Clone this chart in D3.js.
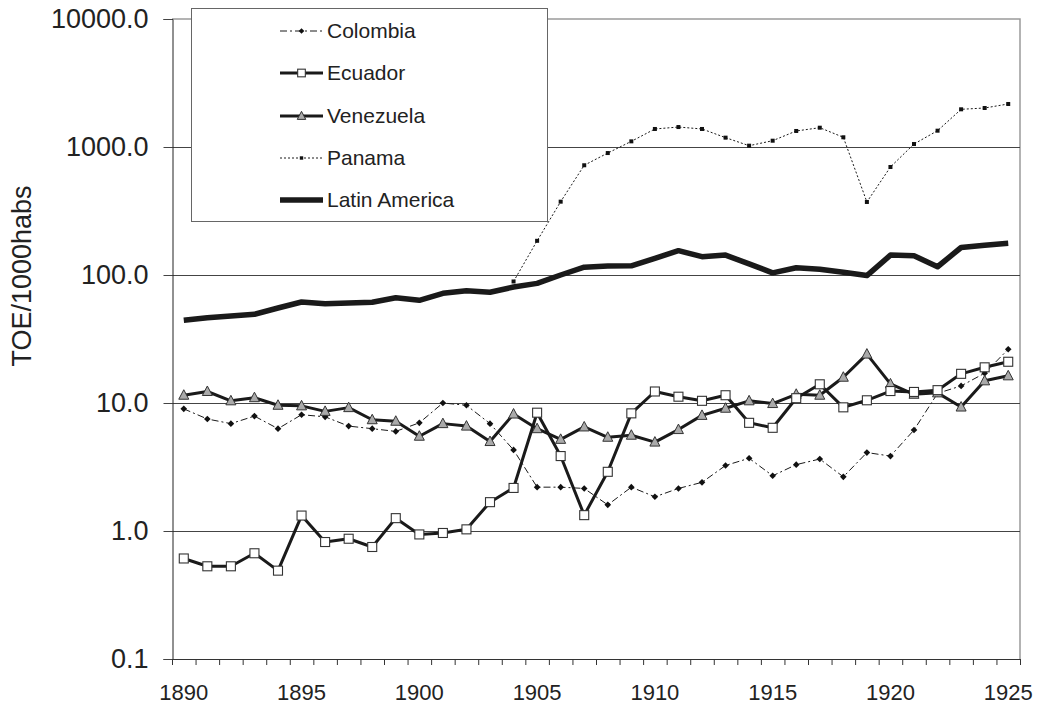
<!DOCTYPE html>
<html>
<head>
<meta charset="utf-8">
<script src="https://cdn.jsdelivr.net/npm/d3@7"></script>
<style>
  body { margin: 0; background: #fff; }
  svg { display: block; font-family: "Liberation Sans", Arial, sans-serif; }
</style>
</head>
<body>
<div id="chart"></div>
<script>
var years = d3.range(1890, 1926);
var labelYears = [1890, 1895, 1900, 1905, 1910, 1915, 1920, 1925];
var yTicks = [0.1, 1, 10, 100, 1000, 10000];
var gridTicks = [1, 10, 100, 1000];

var colombia = [9.0, 7.5, 6.9, 7.9, 6.3, 8.1, 7.8, 6.6, 6.3, 6.0,
  7.0, 10.0, 9.6, 6.9, 4.3, 2.2, 2.2, 2.15, 1.6, 2.2,
  1.85, 2.15, 2.4, 3.25, 3.7, 2.7, 3.3, 3.65, 2.65, 4.1,
  3.85, 6.15, 11.9, 13.6, 17.1, 26.3];
var ecuador = [0.61, 0.53, 0.53, 0.67, 0.49, 1.32, 0.82, 0.87, 0.75, 1.26,
  0.94, 0.965, 1.03, 1.68, 2.17, 8.4, 3.85, 1.33, 2.9, 8.3,
  12.3, 11.2, 10.4, 11.5, 7.0, 6.4, 10.9, 14.0, 9.25, 10.5,
  12.4, 12.2, 12.6, 16.9, 19.0, 21.0];
var venezuela = [11.5, 12.3, 10.4, 11.0, 9.6, 9.5, 8.6, 9.2, 7.4, 7.2,
  5.5, 6.9, 6.6, 5.0, 8.2, 6.3, 5.2, 6.5, 5.4, 5.6,
  4.95, 6.2, 8.0, 9.1, 10.4, 9.9, 11.7, 11.5, 15.9, 24.1,
  14.1, 11.7, 12.0, 9.3, 14.9, 16.3];
var panama = [null, null, null, null, null, null, null, null, null, null,
  null, null, null, null, 89, 185, 374, 720, 897, 1107,
  1383, 1432, 1383, 1183, 1024, 1120, 1334, 1415, 1191, 372,
  698, 1055, 1341, 1970, 2017, 2168];
var latinAmerica = [44.3, 46.4, 47.8, 49.3, 55.2, 61.5, 59.7, 60.4, 61.2, 66.5,
  63.4, 71.9, 75.4, 73.3, 80.5, 86, 100, 115, 117.5, 118,
  135, 155, 139, 143, 122, 104, 114, 111, 105, 99,
  143, 141.5, 116, 164, 171, 177];

var seriesNames = ["Colombia", "Ecuador", "Venezuela", "Panama", "Latin America"];

var width = 1040, height = 704,
    plotLeft = 172, plotRight = 1020, plotTop = 19, plotBottom = 659;

var svg = d3.select("#chart").append("svg")
  .attr("width", width)
  .attr("height", height);

var x = d3.scaleBand().domain(years).range([plotLeft, plotRight]).padding(0);
var y = d3.scaleLog().domain([0.1, 10000]).range([plotBottom, plotTop]);

function cx(d) { return x(d) + x.bandwidth() / 2; }

// plot frame (top and right, grey)
svg.append("path")
  .attr("d", "M" + plotLeft + "," + plotTop + "H" + plotRight + "V" + plotBottom)
  .attr("fill", "none")
  .attr("stroke", "#9a9a9a")
  .attr("stroke-width", 1.5);

// gridlines
svg.append("g").selectAll("line")
  .data(gridTicks)
  .enter().append("line")
  .attr("x1", plotLeft).attr("x2", plotRight)
  .attr("y1", function(d) { return Math.round(y(d)) + 0.5; })
  .attr("y2", function(d) { return Math.round(y(d)) + 0.5; })
  .attr("stroke", "#444")
  .attr("stroke-width", 1);

// y axis
var yAxis = svg.append("g")
  .attr("transform", "translate(" + (plotLeft + 0.5) + ",0)")
  .call(d3.axisLeft(y).tickValues(yTicks).tickFormat(d3.format(".1f")).tickSize(9).tickPadding(15));
yAxis.select(".domain").attr("stroke", "#222");
yAxis.selectAll(".tick line").attr("stroke", "#444");
yAxis.selectAll("text").attr("font-size", "27px").attr("fill", "#222")
  .attr("font-family", "'Liberation Sans', Arial, sans-serif");

// x axis
svg.append("line")
  .attr("x1", plotLeft).attr("x2", plotRight)
  .attr("y1", plotBottom + 0.5).attr("y2", plotBottom + 0.5)
  .attr("stroke", "#333");
svg.append("g").selectAll("line")
  .data(years.concat([null]))
  .enter().append("line")
  .attr("x1", function(d) { return (d === null ? plotRight : x(d)) + 0.5; })
  .attr("x2", function(d) { return (d === null ? plotRight : x(d)) + 0.5; })
  .attr("y1", plotBottom).attr("y2", plotBottom + 6)
  .attr("stroke", "#333");
svg.append("g").selectAll("text")
  .data(labelYears)
  .enter().append("text")
  .attr("x", cx)
  .attr("y", 700)
  .attr("text-anchor", "middle")
  .attr("font-size", "22px")
  .attr("fill", "#222")
  .text(function(d) { return d; });

// y title
svg.append("text")
  .attr("transform", "translate(31,276) rotate(-90)")
  .attr("text-anchor", "middle")
  .attr("font-size", "27px")
  .attr("fill", "#222")
  .text("TOE/1000habs");

function lineFor(values) {
  return d3.line()
    .defined(function(d, i) { return values[i] != null; })
    .x(function(d, i) { return cx(years[i]); })
    .y(function(d, i) { return y(values[i]); })(values);
}

var styles = {
  "Colombia": { data: colombia, width: 1, dash: "7,3,2,3", marker: "diamond" },
  "Ecuador": { data: ecuador, width: 3, dash: null, marker: "square" },
  "Venezuela": { data: venezuela, width: 3, dash: null, marker: "triangle" },
  "Panama": { data: panama, width: 1, dash: "2,2", marker: "smallsquare" },
  "Latin America": { data: latinAmerica, width: 5.5, dash: null, marker: null }
};

// k scales the marker (legend ones are a bit smaller)
function drawMarker(g, type, px, py, k) {
  k = k || 1;
  if (type === "diamond") {
    g.append("path")
      .attr("d", d3.symbol().type(d3.symbolDiamond2).size(28 * k * k)())
      .attr("transform", "translate(" + px + "," + py + ")")
      .attr("fill", "#111");
  } else if (type === "square") {
    var h = 4.5 * k;
    g.append("rect")
      .attr("x", px - h).attr("y", py - h)
      .attr("width", 2 * h).attr("height", 2 * h)
      .attr("fill", "#fff").attr("stroke", "#333").attr("stroke-width", 1.1);
  } else if (type === "triangle") {
    g.append("path")
      .attr("d", "M0," + (-5.5 * k) + "L" + (5 * k) + "," + (4 * k) + "H" + (-5 * k) + "Z")
      .attr("transform", "translate(" + px + "," + py + ")")
      .attr("fill", "#aaa").attr("stroke", "#333").attr("stroke-width", 1);
  } else if (type === "smallsquare") {
    g.append("rect")
      .attr("x", px - 2 * k).attr("y", py - 2 * k)
      .attr("width", 4 * k).attr("height", 4 * k)
      .attr("fill", "#111");
  }
}

var drawOrder = ["Panama", "Latin America", "Colombia", "Venezuela", "Ecuador"];
drawOrder.forEach(function(name) {
  var s = styles[name];
  var g = svg.append("g").attr("class", "series");
  g.append("path")
    .attr("d", lineFor(s.data))
    .attr("fill", "none")
    .attr("stroke", "#1a1a1a")
    .attr("stroke-width", s.width)
    .attr("stroke-linejoin", "round")
    .attr("stroke-dasharray", s.dash);
  if (s.marker) {
    s.data.forEach(function(v, i) {
      if (v != null) drawMarker(g, s.marker, cx(years[i]), y(v));
    });
  }
});

// legend
var legend = svg.append("g");
legend.append("rect")
  .attr("x", 191.5).attr("y", 8.5)
  .attr("width", 356).attr("height", 213)
  .attr("fill", "#fff")
  .attr("stroke", "#666")
  .attr("stroke-width", 1);
var rowY = [31, 73, 116, 158, 200];
seriesNames.forEach(function(name, i) {
  var s = styles[name];
  legend.append("line")
    .attr("x1", 280).attr("x2", 323)
    .attr("y1", rowY[i]).attr("y2", rowY[i])
    .attr("stroke", "#1a1a1a")
    .attr("stroke-width", s.width)
    .attr("stroke-dasharray", s.dash);
  if (s.marker) drawMarker(legend, s.marker, 301.5, rowY[i], 0.85);
  legend.append("text")
    .attr("x", 327).attr("y", rowY[i])
    .attr("dy", "0.35em")
    .attr("font-size", "21px")
    .attr("fill", "#222")
    .text(name);
});
</script>
</body>
</html>
